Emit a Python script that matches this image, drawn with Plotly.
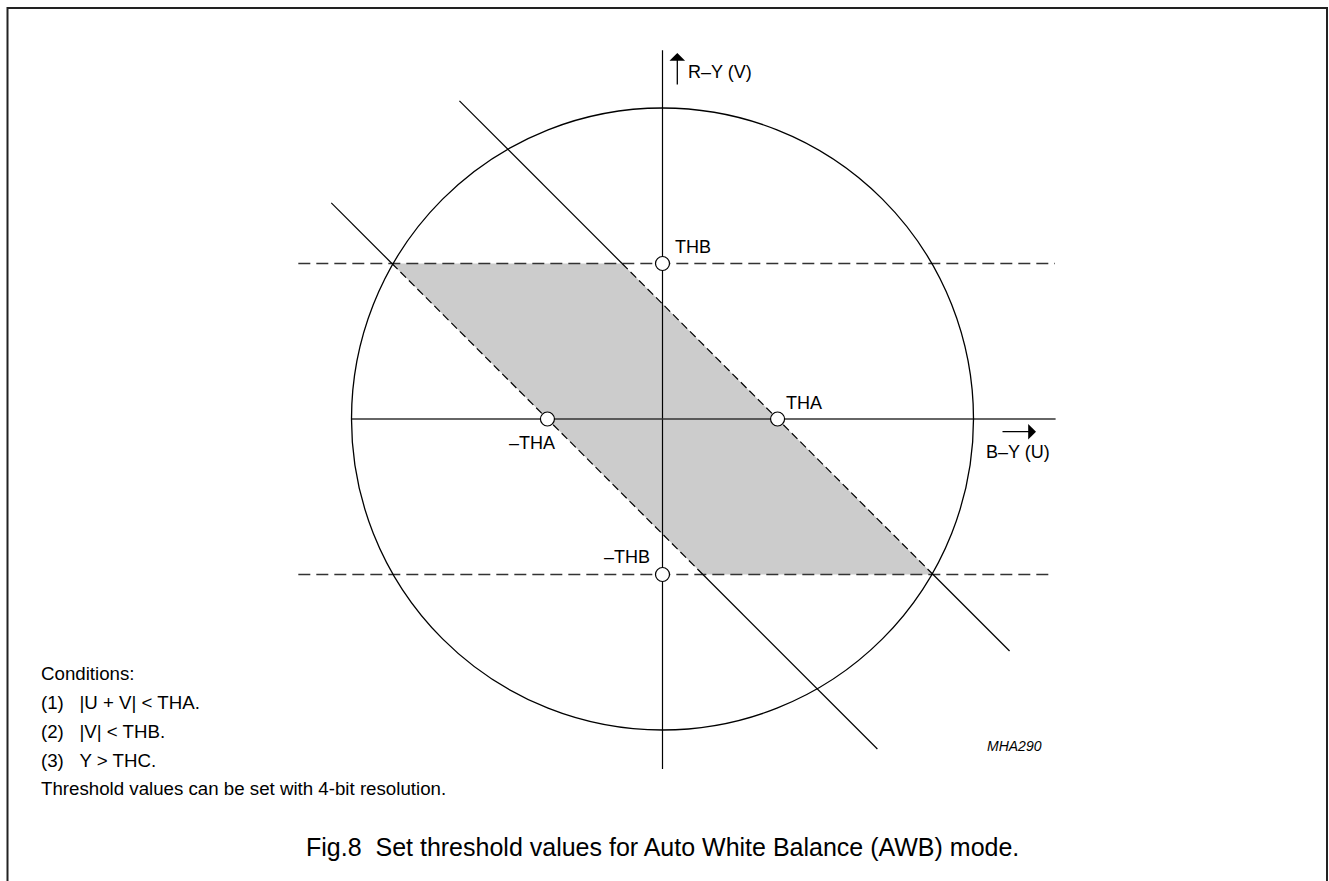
import plotly.graph_objects as go

# ---------------- data (normalised to circle radius = 1) ----------------
R = 1.0                       # colour-difference circle radius
THA = 0.37                    # |U + V| threshold
THB = 0.50                    # |V| threshold
marker_u = [THA, -THA, 0.0, 0.0]
marker_v = [0.0, 0.0, THB, -THB]
marker_labels = ["THA", "\u2013THA", "THB", "\u2013THB"]

# extents (in V) of the two diagonal lines U + V = +/-THA
diag_upper_v = [1.023, -0.746]
diag_lower_v = [0.695, -1.061]
# extents (in U) of the horizontal dashed lines V = +/-THB
hline_upper_u = [-1.171, 1.262]
hline_lower_u = [-1.171, 1.246]
# axes extents
vaxis_v = [-1.125, 1.186]
haxis_u = [-1.0, 1.264]

conditions = [
    "Conditions:",
    "(1)\u00a0\u00a0\u00a0|U + V| < THA.",
    "(2)\u00a0\u00a0\u00a0|V| < THB.",
    "(3)\u00a0\u00a0\u00a0Y > THC.",
    "Threshold values can be set with 4-bit resolution.",
]
caption = "Fig.8\u00a0\u00a0Set threshold values for Auto White Balance (AWB) mode."

# ---------------- layout helpers ----------------
W, H = 1329, 881
CX, CY, S = 662.5, 419.0, 311.0     # pixel centre and pixels per unit
FONT = "Liberation Sans, Arial, Helvetica, sans-serif"


def ux(px):
    return (px - CX) / S


def vy(py):
    return (CY - py) / S


def line_u(v, c):
    return c - v          # U on the line U + V = c


fig = go.Figure()

# shaded acceptance region
poly_v = [THB, THB, -THB, -THB, THB]
poly_u = [line_u(THB, -THA), line_u(THB, THA), line_u(-THB, THA), line_u(-THB, -THA), line_u(THB, -THA)]
fig.add_trace(go.Scatter(x=poly_u, y=poly_v, mode="lines", fill="toself",
                         fillcolor="#cccccc", line=dict(width=0), hoverinfo="skip"))

solid = dict(color="black", width=1.2)

# axes
fig.add_trace(go.Scatter(x=[0, 0], y=vaxis_v, mode="lines", line=solid, hoverinfo="skip"))
fig.add_trace(go.Scatter(x=haxis_u, y=[0, 0], mode="lines",
                         line=dict(color="#333333", width=1.6), hoverinfo="skip"))

# horizontal dashed lines
for ext, v in ((hline_upper_u, THB), (hline_lower_u, -THB)):
    fig.add_trace(go.Scatter(x=ext, y=[v, v], mode="lines",
                             line=dict(color="#333333", width=1.5, dash="12px,6px"),
                             hoverinfo="skip"))

# diagonal lines: solid outside the band, dashed along the band
for c, ext in ((THA, diag_upper_v), (-THA, diag_lower_v)):
    top, bot = ext
    fig.add_trace(go.Scatter(x=[line_u(top, c), line_u(THB, c)], y=[top, THB],
                             mode="lines", line=solid, hoverinfo="skip"))
    fig.add_trace(go.Scatter(x=[line_u(THB, c), line_u(-THB, c)], y=[THB, -THB],
                             mode="lines", line=dict(color="black", width=1.2, dash="8px,4px"),
                             hoverinfo="skip"))
    fig.add_trace(go.Scatter(x=[line_u(-THB, c), line_u(bot, c)], y=[-THB, bot],
                             mode="lines", line=solid, hoverinfo="skip"))

# threshold markers
fig.add_trace(go.Scatter(x=marker_u, y=marker_v, mode="markers",
                         marker=dict(size=14, color="white", line=dict(color="black", width=1.2)),
                         hoverinfo="skip"))

# circle
fig.add_shape(type="circle", xref="x", yref="y", x0=-R, y0=-R, x1=R, y1=R,
              line=dict(color="black", width=1.3))

# frame (left, top, right)
fig.add_shape(type="path", xref="paper", yref="paper",
              path=f"M {7.5/W} 0 L {7.5/W} {1-8/H} L {1327/W} {1-8/H} L {1327/W} 0",
              line=dict(color="#222222", width=2))

ann = []
# marker labels
label_pos = {
    "THA": dict(xanchor="left", yanchor="middle", xshift=6, yshift=16),
    "\u2013THA": dict(xanchor="center", yanchor="middle", xshift=-15, yshift=-24),
    "THB": dict(xanchor="left", yanchor="middle", xshift=10, yshift=17),
    "\u2013THB": dict(xanchor="right", yanchor="middle", xshift=-11, yshift=18),
}
for u, v, t in zip(marker_u, marker_v, marker_labels):
    ann.append(dict(x=u, y=v, xref="x", yref="y", text=t, showarrow=False,
                    font=dict(size=18, color="black", family=FONT), **label_pos[t]))

# axis titles and arrows
ann.append(dict(x=ux(686), y=vy(71.5), xref="x", yref="y", text="R\u2013Y (V)", showarrow=False,
                xanchor="left", yanchor="middle", font=dict(size=18, color="black", family=FONT)))
ann.append(dict(x=ux(984), y=vy(451.5), xref="x", yref="y", text="B\u2013Y (U)", showarrow=False,
                xanchor="left", yanchor="middle", font=dict(size=18, color="black", family=FONT)))
ann.append(dict(x=ux(677.3), y=vy(53), ax=ux(677.3), ay=vy(86), xref="x", yref="y",
                axref="x", ayref="y", text="", showarrow=True, arrowhead=1, arrowsize=2,
                arrowwidth=1.3, arrowcolor="black"))
ann.append(dict(x=ux(1036), y=vy(431.7), ax=ux(1001), ay=vy(431.7), xref="x", yref="y",
                axref="x", ayref="y", text="", showarrow=True, arrowhead=1, arrowsize=2,
                arrowwidth=1.3, arrowcolor="black"))

# figure code
ann.append(dict(x=985 / W, y=1 - 746 / H, xref="paper", yref="paper", text="<i>MHA290</i>",
                showarrow=False, xanchor="left", yanchor="middle",
                font=dict(size=14, color="black", family=FONT)))

# conditions text
cond_y = [673, 702, 731, 760, 788]
for t, py in zip(conditions, cond_y):
    ann.append(dict(x=39 / W, y=1 - py / H, xref="paper", yref="paper", text=t,
                    showarrow=False, xanchor="left", yanchor="middle",
                    font=dict(size=18.7, color="black", family=FONT)))

# caption
ann.append(dict(x=CX / W, y=1 - 847 / H, xref="paper", yref="paper", text=caption,
                showarrow=False, xanchor="center", yanchor="middle",
                font=dict(size=25, color="black", family=FONT)))

fig.update_layout(
    width=W, height=H,
    margin=dict(l=0, r=0, t=0, b=0),
    paper_bgcolor="white", plot_bgcolor="white",
    showlegend=False,
    annotations=ann,
    xaxis=dict(visible=False, range=[ux(0), ux(W)], fixedrange=True),
    yaxis=dict(visible=False, range=[vy(H), vy(0)], fixedrange=True),
)

fig.write_html("out.html", config={"displayModeBar": False},
               post_script="document.body.style.margin='0';document.body.style.overflow='hidden';")
